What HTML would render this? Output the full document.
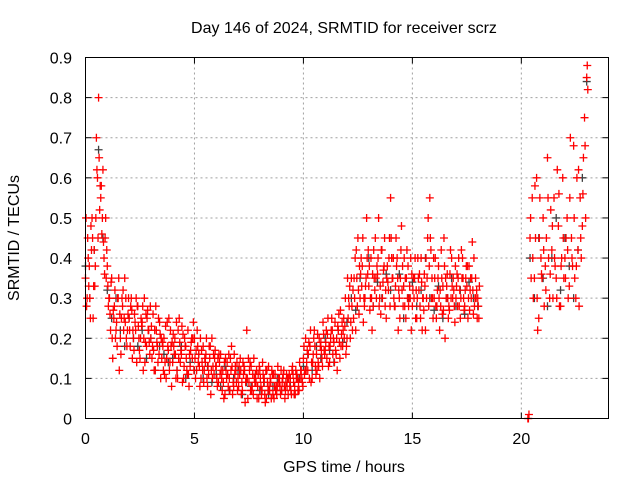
<!DOCTYPE html>
<html><head><meta charset="utf-8"><style>
body{margin:0;background:#fff}
svg text{font-family:"Liberation Sans",sans-serif;font-size:16px;fill:#000}
</style></head><body>
<svg id="chart" width="640" height="480" viewBox="0 0 640 480" xmlns="http://www.w3.org/2000/svg">
<text x="344" y="33" text-anchor="middle">Day 146 of 2024, SRMTID for receiver scrz</text>
<text transform="translate(19,238) rotate(-90)" text-anchor="middle">SRMTID / TECUs</text>
<text x="344" y="472" text-anchor="middle">GPS time / hours</text>
<g id="grid"></g>
<g id="ticks"></g>
<g id="darkPts"></g>
<g id="redPts"></g>
<rect x="85.5" y="57.5" width="523" height="361" fill="none" stroke="#000" stroke-width="1"/>
</svg>
<script>
const xTicks=[0,5,10,15,20];
const yTicks=[0,0.1,0.2,0.3,0.4,0.5,0.6,0.7,0.8,0.9];
const yTickLabels=["0","0.1","0.2","0.3","0.4","0.5","0.6","0.7","0.8","0.9"];
const dayStart=0, dayStep=0.1, lateStart=20.3;
const redA=[0.35,0.45,0.30,0.50,0.42,0.70,0.80,0.55,0.62,0.45,
0.38,0.30,0.35,0.25,0.22,0.30,0.20,0.28,0.35,0.18,
0.25,0.30,0.20,0.22,0.28,0.15,0.24,0.30,0.18,0.22,
0.20,0.26,0.12,0.18,0.24,0.15,0.20,0.10,0.17,0.22,
0.14,0.20,0.12,0.25,0.16,0.10,0.18,0.22,0.13,0.15,
0.20,0.12,0.16,0.10,0.18,0.14,0.08,0.15,0.20,0.11,
0.13,0.09,0.16,0.12,0.06,0.14,0.10,0.18,0.08,0.12,
0.10,0.15,0.07,0.12,0.22,0.09,0.13,0.06,0.11,0.08,
0.12,0.07,0.10,0.05,0.13,0.09,0.06,0.11,0.08,0.10,
0.07,0.12,0.09,0.06,0.10,0.13,0.08,0.11,0.07,0.12,
0.15,0.20,0.12,0.18,0.10,0.22,0.16,0.13,0.19,0.24,
0.17,0.21,0.14,0.25,0.19,0.16,0.22,0.27,0.18,0.23,
0.20,0.28,0.35,0.25,0.22,0.45,0.30,0.38,0.28,0.50,
0.33,0.40,0.28,0.45,0.36,0.30,0.42,0.38,0.25,0.32,
0.55,0.35,0.28,0.40,0.30,0.48,0.33,0.25,0.38,0.30,
0.28,0.35,0.25,0.32,0.40,0.30,0.22,0.45,0.55,0.35,
0.30,0.25,0.38,0.28,0.33,0.20,0.36,0.27,0.40,0.32,
0.30,0.35,0.25,0.40,0.28,0.33,0.38,0.30,0.26,0.35,0.30];
const redB=[0.28,0.33,0.48,0.25,0.38,0.60,0.52,0.46,0.40,0.35,
0.28,0.22,0.15,0.32,0.18,0.12,0.25,0.22,0.30,0.26,
0.18,0.15,0.26,0.14,0.20,0.25,0.12,0.19,0.27,0.16,
0.15,0.12,0.22,0.25,0.10,0.18,0.14,0.24,0.12,0.08,
0.18,0.10,0.22,0.14,0.09,0.20,0.12,0.08,0.19,0.24,
0.10,0.18,0.08,0.14,0.12,0.20,0.11,0.06,0.13,0.17,
0.08,0.14,0.10,0.05,0.12,0.08,0.15,0.06,0.11,0.14,
0.13,0.06,0.11,0.09,0.05,0.14,0.08,0.10,0.12,0.05,
0.08,0.11,0.04,0.09,0.07,0.12,0.05,0.08,0.10,0.06,
0.10,0.05,0.08,0.11,0.06,0.09,0.12,0.07,0.10,0.09,
0.11,0.14,0.19,0.09,0.16,0.13,0.21,0.10,0.15,0.17,
0.22,0.13,0.20,0.16,0.24,0.12,0.19,0.21,0.25,0.16,
0.25,0.20,0.22,0.30,0.35,0.26,0.40,0.24,0.33,0.36,
0.27,0.22,0.35,0.30,0.50,0.26,0.34,0.28,0.38,0.45,
0.40,0.30,0.45,0.22,0.35,0.38,0.28,0.42,0.30,0.22,
0.35,0.25,0.40,0.28,0.22,0.36,0.30,0.28,0.42,0.25,
0.40,0.32,0.22,0.35,0.45,0.30,0.25,0.42,0.30,0.24,
0.36,0.28,0.42,0.30,0.35,0.25,0.32,0.44,0.28,0.32,0.25];
const redC=[0.50,0.40,0.25,0.45,0.33,0.62,0.65,0.58,0.44,0.50,
0.33,0.26,0.20,0.28,0.24,0.35,0.16,0.32,0.24,0.22,
0.22,0.27,0.17,0.30,0.23,0.20,0.28,0.14,0.25,0.19,
0.23,0.17,0.28,0.14,0.21,0.19,0.11,0.15,0.25,0.18,
0.21,0.16,0.10,0.19,0.23,0.13,0.15,0.11,0.17,0.20,
0.15,0.22,0.13,0.17,0.09,0.16,0.13,0.18,0.10,0.15,
0.10,0.16,0.12,0.09,0.15,0.11,0.07,0.13,0.16,0.09,
0.08,0.12,0.14,0.04,0.10,0.12,0.07,0.15,0.09,0.11,
0.10,0.14,0.06,0.12,0.08,0.05,0.11,0.07,0.13,0.08,
0.09,0.08,0.11,0.10,0.07,0.11,0.06,0.10,0.14,0.10,
0.18,0.12,0.16,0.22,0.14,0.18,0.12,0.20,0.17,0.21,
0.19,0.25,0.18,0.22,0.14,0.20,0.26,0.18,0.22,0.30,
0.35,0.33,0.28,0.35,0.42,0.32,0.36,0.45,0.30,0.40,
0.38,0.30,0.42,0.35,0.40,0.33,0.30,0.45,0.35,0.40,
0.45,0.40,0.33,0.35,0.25,0.32,0.40,0.35,0.28,0.40,
0.32,0.40,0.30,0.36,0.34,0.27,0.40,0.50,0.45,0.30,
0.35,0.28,0.30,0.42,0.27,0.35,0.30,0.36,0.33,0.28,
0.33,0.40,0.30,0.35,0.32,0.38,0.27,0.35,0.40,0.30,0.28];
const redD=[0.30,0.38,0.42,0.33,0.50,0.45,0.58,0.50,0.36,0.42,
0.30,0.34,0.27,0.20,0.30,0.26,0.30,0.25,0.20,0.30,
0.28,0.22,0.24,0.28,0.17,0.23,0.20,0.26,0.22,0.28,
0.18,0.22,0.19,0.16,0.20,0.12,0.23,0.18,0.14,0.19,
0.16,0.24,0.15,0.17,0.21,0.18,0.11,0.16,0.20,0.12,
0.17,0.14,0.20,0.12,0.15,0.10,0.18,0.12,0.16,0.13,
0.15,0.11,0.07,0.14,0.10,0.16,0.12,0.09,0.13,0.07,
0.11,0.09,0.13,0.10,0.15,0.07,0.11,0.09,0.05,0.13,
0.06,0.09,0.12,0.07,0.10,0.11,0.08,0.06,0.09,0.12,
0.11,0.07,0.10,0.08,0.12,0.06,0.10,0.09,0.12,0.08,
0.12,0.17,0.10,0.14,0.20,0.11,0.14,0.18,0.13,0.16,
0.15,0.18,0.22,0.20,0.17,0.23,0.15,0.24,0.20,0.18,
0.30,0.24,0.32,0.40,0.28,0.38,0.33,0.30,0.35,0.42,
0.30,0.36,0.32,0.38,0.28,0.42,0.37,0.32,0.34,0.28,
0.35,0.28,0.38,0.32,0.42,0.28,0.35,0.30,0.33,0.36,
0.30,0.32,0.35,0.25,0.30,0.33,0.35,0.38,0.30,0.40,
0.28,0.35,0.32,0.26,0.38,0.33,0.28,0.30,0.35,0.38,
0.28,0.32,0.35,0.27,0.38,0.30,0.35,0.32,0.30,0.25,0.33];
const redLateA=[0.00,0.45,0.55,0.35,0.60,0.25,0.40,0.50,0.38,0.65,0.30,0.42,0.55,0.35,0.48,0.28,0.60,0.40,0.50,0.33,0.45,0.68,0.30,0.42,0.55,0.48,0.75,0.85];
const redLateB=[0.01,0.35,0.30,0.45,0.22,0.55,0.35,0.28,0.45,0.40,0.52,0.30,0.38,0.62,0.28,0.40,0.35,0.45,0.30,0.70,0.38,0.35,0.60,0.28,0.40,0.65,0.50,0.82];
const redLateC=[0.00,0.50,0.40,0.58,0.30,0.45,0.36,0.42,0.32,0.55,0.36,0.48,0.40,0.30,0.56,0.38,0.45,0.35,0.42,0.55,0.40,0.50,0.38,0.62,0.45,0.56,0.68,0.88];
const darkDay=[0.38,0.30,0.42,0.67,0.45,0.32,0.25,0.30,0.22,0.18,
0.25,0.20,0.18,0.22,0.15,0.20,0.12,0.18,0.16,0.14,
0.15,0.12,0.18,0.10,0.14,0.12,0.16,0.10,0.13,0.09,
0.11,0.08,0.13,0.07,0.10,0.12,0.06,0.09,0.08,0.11,
0.07,0.09,0.06,0.08,0.10,0.07,0.09,0.08,0.06,0.10,
0.13,0.16,0.12,0.18,0.15,0.20,0.17,0.14,0.22,0.19,
0.24,0.30,0.27,0.35,0.30,0.40,0.28,0.34,0.30,0.36,
0.32,0.28,0.36,0.25,0.30,0.34,0.28,0.32,0.40,0.30,
0.27,0.33,0.25,0.30,0.35,0.28,0.32,0.26,0.34,0.30,0.28];
const darkLate=[0.40,0.30,0.45,0.35,0.28,0.40,0.50,0.32,0.45,0.38,0.30,0.42,0.60,0.84];

const NS="http://www.w3.org/2000/svg";
const X0=85.5,X1=608.5,Y0=418.5,Y1=57.5;
function xs(h){return X0+(h/24)*(X1-X0);}
function ys(v){return Y0-(v/0.9)*(Y0-Y1);}
function mk(tag,attrs,parent){const e=document.createElementNS(NS,tag);for(const k in attrs)e.setAttribute(k,attrs[k]);parent.appendChild(e);return e;}
const grid=document.getElementById('grid'),ticks=document.getElementById('ticks');
xTicks.forEach(t=>{
  const x=xs(t);
  const g=mk('line',{x1:x,x2:x,y1:Y1,y2:Y0,stroke:'#a0a0a0','stroke-dasharray':'2,3'},grid);
  
  
  mk('line',{x1:x,x2:x,y1:Y0,y2:Y0-6,stroke:'#000'},ticks);
  mk('line',{x1:x,x2:x,y1:Y1,y2:Y1+6,stroke:'#000'},ticks);
  const l=mk('text',{x:x,y:444,'text-anchor':'middle'},ticks);l.textContent=String(t);
  
  
});
yTicks.forEach((t,i)=>{
  const y=ys(t);
  const g=mk('line',{x1:X0,x2:X1,y1:y,y2:y,stroke:'#a0a0a0','stroke-dasharray':'2,3'},grid);
  
  
  mk('line',{x1:X0,x2:X0+6,y1:y,y2:y,stroke:'#000'},ticks);
  mk('line',{x1:X1,x2:X1-6,y1:y,y2:y,stroke:'#000'},ticks);
  const l=mk('text',{x:72,y:y+6,'text-anchor':'end'},ticks);l.textContent=yTickLabels[i];
  
  
});
function plus(g,h,v,col){
  const x=xs(h),y=ys(v);
  const p=mk('path',{d:`M${x-4},${y}H${x+4}M${x},${y-4}V${y+4}`,stroke:col,'stroke-width':1.3,fill:'none'},g);
  
  
}
const dg=document.getElementById('darkPts'),rg=document.getElementById('redPts');
darkDay.forEach((v,i)=>plus(dg,dayStart+i*0.2,v,'#404040'));
darkLate.forEach((v,i)=>plus(dg,20.4+i*0.2,v,'#404040'));
redA.forEach((v,i)=>plus(rg,dayStart+i*dayStep,v,'#ff0000'));
redB.forEach((v,i)=>plus(rg,dayStart+i*dayStep+0.05,v,'#ff0000'));
redC.forEach((v,i)=>plus(rg,dayStart+i*dayStep+0.025,v,'#ff0000'));
redD.forEach((v,i)=>plus(rg,dayStart+i*dayStep+0.075,v,'#ff0000'));
redLateA.forEach((v,i)=>plus(rg,lateStart+i*0.1,v,'#ff0000'));
redLateB.forEach((v,i)=>plus(rg,lateStart+i*0.1+0.05,v,'#ff0000'));
redLateC.forEach((v,i)=>plus(rg,lateStart+i*0.1+0.025,v,'#ff0000'));
</script>
</body></html>
